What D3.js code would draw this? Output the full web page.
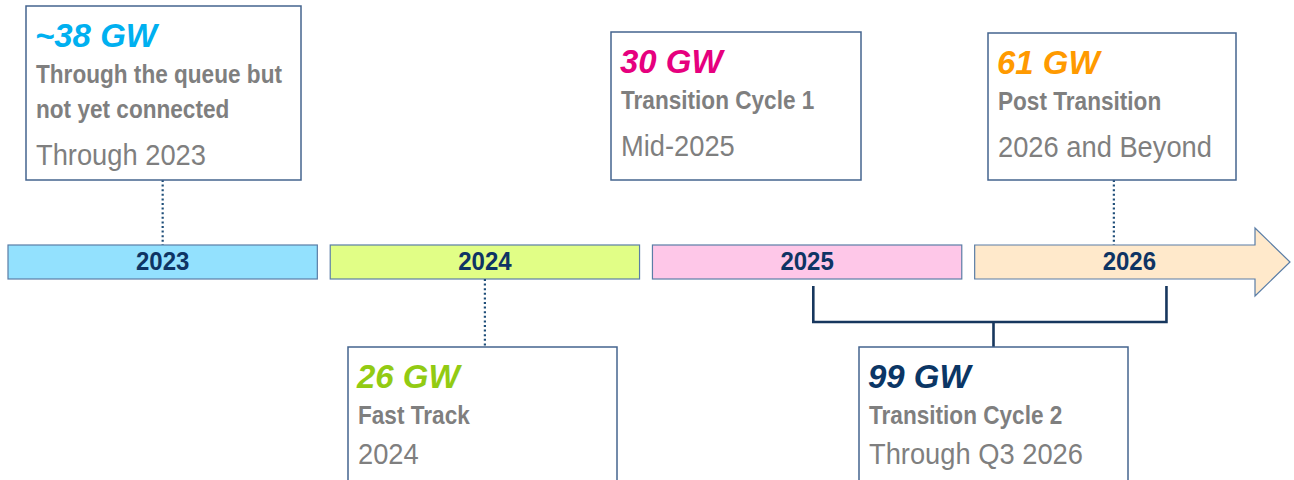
<!DOCTYPE html>
<html>
<head>
<meta charset="utf-8">
<script src="https://cdn.jsdelivr.net/npm/d3@7"></script>
<style>
  body { margin: 0; background: #fff; }
  svg { display: block; font-family: "Liberation Sans", Arial, sans-serif; }
</style>
</head>
<body>
<div id="chart"></div>
<script>
const years = [2023, 2024, 2025, 2026];
const yearColors = ['#93E1FE', '#E1FE86', '#FEC7E8', '#FFE9CB'];

const amounts = ['~38 GW', '26 GW', '30 GW', '61 GW', '99 GW'];
const labels = [
  ['Through the queue but', 'not yet connected'],
  ['Fast Track'],
  ['Transition Cycle 1'],
  ['Post Transition'],
  ['Transition Cycle 2']
];
const periods = ['Through 2023', '2024', 'Mid-2025', '2026 and Beyond', 'Through Q3 2026'];
const amountColors = ['#00B0F0', '#92CB13', '#E6007E', '#FF9A00', '#0B3665'];
// point on the timeline each callout refers to (fractional year), bracket = span
const anchors = [2023.5, 2024.5, null, 2026.45, [2025.52, 2026.62]];

// box placement (layout only)
const boxes = [
  { x: 26, y: 6, w: 275, h: 174, below: false, gap: 47 },
  { x: 348, y: 347, w: 269, h: 160, below: true, gap: 40 },
  { x: 611, y: 32, w: 250, h: 148, below: false, gap: 47 },
  { x: 988, y: 33, w: 248, h: 147, below: false, gap: 47 },
  { x: 859, y: 347, w: 269, h: 160, below: true, gap: 40 }
];

const W = 1294, H = 480;
const barTop = 245, barH = 34;
const navy = '#17375E';

const svg = d3.select('#chart').append('svg')
  .attr('width', W)
  .attr('height', H);

const band = d3.scaleBand()
  .domain(years)
  .range([8, 1284])
  .paddingInner(0.04);

const tx = (t) => {
  const y = Math.floor(t);
  return band(y) + (t - y) * band.bandwidth();
};

// timeline bars, last one is an arrow
const gB = svg.append('g');
years.forEach((y, i) => {
  const x0 = band(y);
  const x1 = x0 + band.bandwidth();
  if (i === years.length - 1) {
    const cy = barTop + barH / 2;
    const shaftEnd = x1 - 29;
    const tip = x1 + 6;
    gB.append('path')
      .attr('d', `M${x0} ${barTop}H${shaftEnd}V${cy - 34}L${tip} ${cy}L${shaftEnd} ${cy + 34}V${barTop + barH}H${x0}Z`)
      .attr('fill', yearColors[i])
      .attr('stroke', '#5A7DA6')
      .attr('stroke-width', 1.2);
  } else {
    gB.append('rect')
      .attr('x', x0)
      .attr('y', barTop)
      .attr('width', x1 - x0)
      .attr('height', barH)
      .attr('fill', yearColors[i])
      .attr('stroke', '#5A7DA6')
      .attr('stroke-width', 1.2);
  }
  gB.append('text')
    .attr('transform', `translate(${tx(y + 0.5)},${barTop + barH / 2 + 8}) scale(1,1.06)`)
    .attr('text-anchor', 'middle')
    .attr('font-weight', 'bold')
    .attr('font-size', 24)
    .attr('fill', '#0E3464')
    .text(y);
});

// connectors
const gC = svg.append('g');
anchors.forEach((a, i) => {
  const b = boxes[i];
  if (a === null) return;
  if (Array.isArray(a)) {
    const xa = tx(a[0]), xb = tx(a[1]);
    const yb = 322;
    gC.append('path')
      .attr('d', `M${xa} ${barTop + barH + 7}V${yb}H${xb}V${barTop + barH + 7}M${b.x + b.w / 2} ${yb}V${b.y}`)
      .attr('fill', 'none')
      .attr('stroke', navy)
      .attr('stroke-width', 2.6);
    return;
  }
  const x = tx(a);
  gC.append('line')
    .attr('x1', x)
    .attr('x2', x)
    .attr('y1', b.below ? barTop + barH : b.y + b.h)
    .attr('y2', b.below ? b.y : barTop)
    .attr('stroke', '#1F4E79')
    .attr('stroke-width', 2.2)
    .attr('stroke-dasharray', '2 2.6');
});

// callout boxes
boxes.forEach((b, i) => {
  const g = svg.append('g').attr('transform', `translate(${b.x},${b.y})`);
  g.append('rect')
    .attr('width', b.w)
    .attr('height', b.h)
    .attr('fill', '#fff')
    .attr('stroke', '#44648E')
    .attr('stroke-width', 1.5);

  g.append('text')
    .attr('x', 9)
    .attr('y', 41)
    .attr('font-size', 33)
    .attr('font-weight', 'bold')
    .attr('font-style', 'italic')
    .attr('fill', amountColors[i])
    .text(amounts[i]);

  let yy = 77;
  labels[i].forEach((l, j) => {
    if (j > 0) yy += 35;
    g.append('text')
      .attr('transform', `translate(10,${yy}) scale(1,1.12)`)
      .attr('font-size', 22.6)
      .attr('font-weight', 'bold')
      .attr('fill', '#7F7F7F')
      .text(l);
  });

  g.append('text')
    .attr('transform', `translate(10,${yy + b.gap}) scale(1,1.1)`)
    .attr('font-size', 27.3)
    .attr('fill', '#7F7F7F')
    .text(periods[i]);
});
</script>
</body>
</html>
